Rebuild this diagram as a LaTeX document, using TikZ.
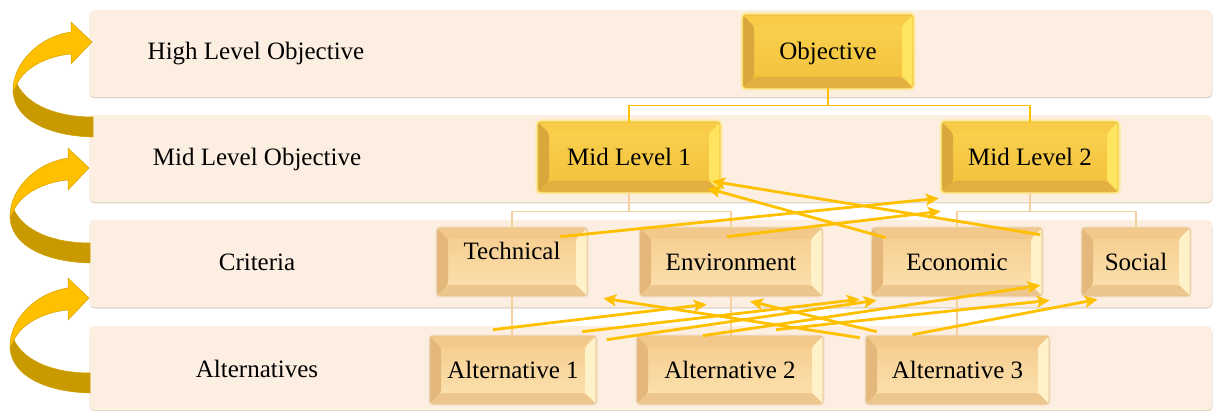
\documentclass[tikz,border=0pt]{standalone}
\usepackage{fontspec}
\setmainfont{Liberation Serif}
\usetikzlibrary{arrows.meta}

\definecolor{bandfill}{HTML}{FDEEE2}
\definecolor{bandshade}{HTML}{E2D6CC}
\definecolor{arrowgold}{HTML}{FFC000}
\definecolor{ribbondark}{HTML}{C99A00}
\definecolor{ribbonedge}{HTML}{D2A200}
\definecolor{goldtop}{HTML}{FAD24F}
\definecolor{goldbot}{HTML}{F2C03A}
\definecolor{goldleft}{HTML}{D9A73C}
\definecolor{goldtopb}{HTML}{F8CC47}
\definecolor{goldright}{HTML}{FFE55F}
\definecolor{goldbottom}{HTML}{E2AF40}
\definecolor{goldrim}{HTML}{E9B837}
\definecolor{goldglow}{HTML}{FFE98A}
\definecolor{peachtop}{HTML}{F5CB8C}
\definecolor{peachbot}{HTML}{FCE3B1}
\definecolor{peachleft}{HTML}{E4B77A}
\definecolor{peachtopb}{HTML}{F3C98B}
\definecolor{peachright}{HTML}{FFF2C8}
\definecolor{peachbottom}{HTML}{EDC68E}
\definecolor{peachrim}{HTML}{E6C493}
\definecolor{peachglow}{HTML}{EFD8BC}
\definecolor{tanlink}{HTML}{F6CF9E}

% four bevel faces clipped to the box outline
\newcommand\bevelfaces[5]{%
  \fill[#1] (path picture bounding box.north west)
    -- ([xshift=#5,yshift=-#5]path picture bounding box.north west)
    -- ([xshift=#5,yshift=#5]path picture bounding box.south west)
    -- (path picture bounding box.south west) -- cycle;
  \fill[#2] (path picture bounding box.north west)
    -- (path picture bounding box.north east)
    -- ([xshift=-#5,yshift=-#5]path picture bounding box.north east)
    -- ([xshift=#5,yshift=-#5]path picture bounding box.north west) -- cycle;
  \fill[#3] (path picture bounding box.north east)
    -- ([xshift=-#5,yshift=-#5]path picture bounding box.north east)
    -- ([xshift=-#5,yshift=#5]path picture bounding box.south east)
    -- (path picture bounding box.south east) -- cycle;
  \fill[#4] (path picture bounding box.south west)
    -- (path picture bounding box.south east)
    -- ([xshift=-#5,yshift=#5]path picture bounding box.south east)
    -- ([xshift=#5,yshift=#5]path picture bounding box.south west) -- cycle;
}

% curved 3D ribbon arrow climbing from one tier to the next
\newcommand\ribbonarrow[2]{%
  \begin{scope}[shift={(#1,#2)}]
    \fill[ribbondark, draw=ribbonedge, line width=0.5pt]
      (10,216) .. controls (10,245) and (45,262) .. (90,263)
      -- (90,243) .. controls (55,243) and (25,232) .. (14,210) -- cycle;
    \fill[arrowgold, draw=ribbonedge, line width=0.5pt]
      (10,218) .. controls (9,190) and (35,163) .. (68,158)
      -- (68,148) -- (89,168) -- (68,190) -- (68,180)
      .. controls (45,182) and (22,193) .. (14,210) -- cycle;
  \end{scope}}

\tikzset{
  txt/.style={font=\fontsize{25}{30}\selectfont, text height=17pt, text depth=0pt, inner sep=0pt},
  tiertext/.style={txt},
  goldbox/.style={txt, rounded corners=3pt, draw=goldrim, line width=0.6pt,
    top color=goldtop, bottom color=goldbot,
    preaction={draw=goldglow, line width=5pt, opacity=0.8},
    path picture={\bevelfaces{goldleft}{goldtopb}{goldright}{goldbottom}{11pt}}},
  peachbox/.style={txt, rounded corners=3pt, draw=peachrim, line width=0.6pt,
    top color=peachtop, bottom color=peachbot, minimum height=68pt,
    preaction={draw=peachglow, line width=3pt, opacity=0.7},
    path picture={\bevelfaces{peachleft}{peachtopb}{peachright}{peachbottom}{11pt}}},
  tierlink/.style={draw=arrowgold, line width=1.5pt},
  sublink/.style={draw=tanlink, line width=1.5pt},
  cross/.style={draw=arrowgold, line width=2.8pt,
    -{Stealth[length=13pt,width=12pt,inset=3pt]}},
}

\begin{document}
\begin{tikzpicture}[x=1pt,y=-1pt]
\useasboundingbox (0,0) rectangle (1214,411);

% tier bands
\foreach \t/\b in {10/97, 115/202, 220/307, 326/410}{
  \fill[bandshade, rounded corners=5pt] (89.5,\t+1.5) rectangle (1212.5,\b+1.5);
  \fill[bandfill, rounded corners=5pt] (89,\t) rectangle (1212,\b);
}

% tier names
\node[tiertext] (thigh) at (256,51.5) {High Level Objective};
\node[tiertext] (tmid) at (257,157.5) {Mid Level Objective};
\node[tiertext] (tcrit) at (257,262.5) {Criteria};
\node[tiertext] (talt) at (257,368.5) {Alternatives};

% hierarchy boxes
\node[goldbox, minimum width=170pt, minimum height=73pt] (obj) at (828,51.5) {Objective};
\node[goldbox, minimum width=182pt, minimum height=70pt] (ml1) at (629,157) {Mid Level 1};
\node[goldbox, minimum width=176pt, minimum height=70pt] (ml2) at (1030,157) {Mid Level 2};

\node[peachbox, minimum width=150pt, text depth=21pt] (tech) at (512,262) {Technical};
\node[peachbox, minimum width=182pt] (env) at (731,262) {Environment};
\node[peachbox, minimum width=170pt] (eco) at (957,262) {Economic};
\node[peachbox, minimum width=108pt] (soc) at (1136,262) {Social};

\node[peachbox, minimum width=166pt] (alt1) at (513,370) {Alternative 1};
\node[peachbox, minimum width=186pt] (alt2) at (730,370) {Alternative 2};
\node[peachbox, minimum width=183pt] (alt3) at (957.5,370) {Alternative 3};

% tree links
\draw[tierlink] (obj.south) -- ++(0,17) -| (ml1.north);
\draw[tierlink] (obj.south) -- ++(0,17) -| (ml2.north);
\draw[sublink] (ml1.south) -- ++(0,19) -| (tech.north);
\draw[sublink] (ml1.south) -- ++(0,19) -| (env.north);
\draw[sublink] (ml2.south) -- ++(0,19) -| (eco.north);
\draw[sublink] (ml2.south) -- ++(0,19) -| (soc.north);
\draw[sublink] (tech.south) -- (tech.south |- alt1.north);
\draw[sublink] (env.south) -- (env.south |- alt2.north);
\draw[sublink] (eco.south) -- (eco.south |- alt3.north);

% criteria to mid-level objectives
\draw[cross] ([xshift=-27pt,yshift=-9pt]tech.north east) -- ([xshift=-3pt,yshift=-6pt]ml2.south west);
\draw[cross] ([xshift=-4pt,yshift=-9pt]env.north) -- ([xshift=-1pt,yshift=-19pt]ml2.south west);
\draw[cross] ([xshift=14pt,yshift=-10pt]eco.north west) -- ([xshift=-13pt,yshift=4pt]ml1.south east);
\draw[cross] ([xshift=-2pt,yshift=-7pt]eco.north east) -- ([xshift=-8pt,yshift=11pt]ml1.south east);

% alternatives to criteria
\draw[cross] ([xshift=-20pt,yshift=6pt]alt1.north) -- ([xshift=67pt,yshift=-8pt]env.south west);
\draw[cross] ([xshift=-14pt,yshift=4pt]alt1.north east) -- ([xshift=-12pt,yshift=-3pt]eco.south west);
\draw[cross] ([xshift=-30pt,yshift=-4pt]alt2.north west) -- ([xshift=5pt,yshift=-4pt]eco.south west);
\draw[cross] ([xshift=66pt]alt2.north west) -- ([xshift=-2pt,yshift=11pt]eco.south east);
\draw[cross] ([xshift=46pt,yshift=6pt]alt2.north) -- ([xshift=-32pt,yshift=-4pt]soc.south west);
\draw[cross] ([xshift=-6pt,yshift=-2pt]alt3.north west) -- ([xshift=16pt,yshift=-2pt]tech.south east);
\draw[cross] ([xshift=11pt,yshift=4pt]alt3.north west) -- ([xshift=19pt,yshift=-5pt]env.south);
\draw[cross] ([xshift=-45pt,yshift=1pt]alt3.north) -- ([xshift=16pt,yshift=-3pt]soc.south west);

% upward ribbon arrows along the left edge
\ribbonarrow{3}{-126}
\ribbonarrow{0}{0}
\ribbonarrow{0}{130}
\end{tikzpicture}
\end{document}
